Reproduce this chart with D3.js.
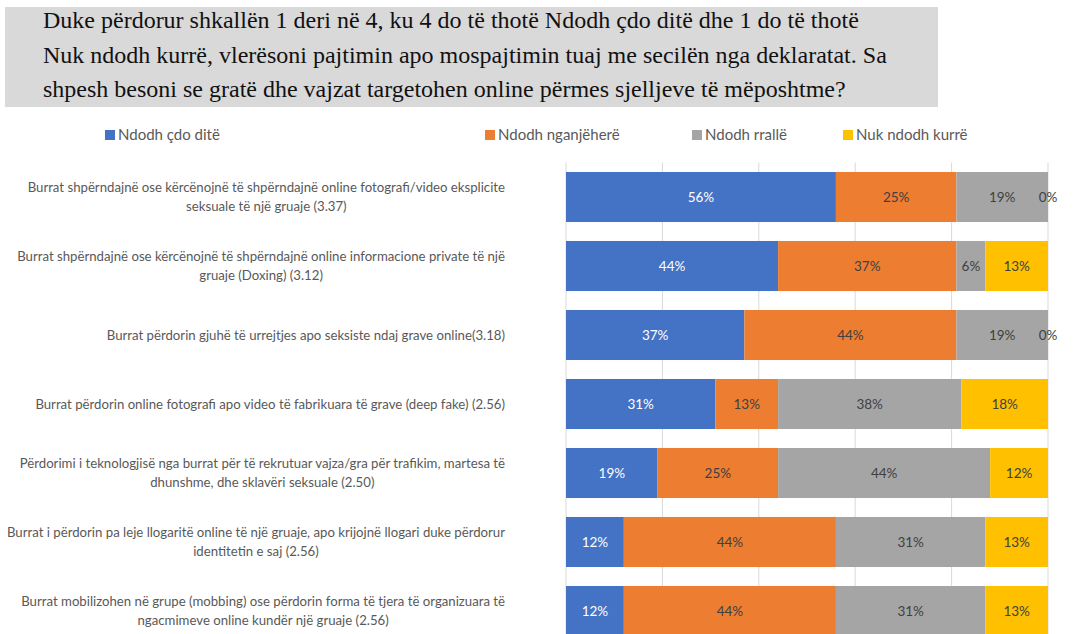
<!DOCTYPE html>
<html>
<head>
<meta charset="utf-8">
<script src="https://cdn.jsdelivr.net/npm/d3@7"></script>
<style>
  body { margin: 0; background: #fff; }
</style>
</head>
<body>
<div id="chart"></div>
<script>
// title + data
const titleLines = [
  "Duke përdorur shkallën 1 deri në 4, ku 4 do të thotë Ndodh çdo ditë dhe 1 do të thotë",
  "Nuk ndodh kurrë, vlerësoni pajtimin apo mospajtimin tuaj me secilën nga deklaratat. Sa",
  "shpesh besoni se gratë dhe vajzat targetohen online përmes sjelljeve të mëposhtme?"
];
const categories = [
  "Burrat shpërndajnë ose kërcënojnë të shpërndajnë online fotografi/video eksplicite\nseksuale të një gruaje (3.37)",
  "Burrat shpërndajnë ose kërcënojnë të shpërndajnë online informacione private të një\ngruaje (Doxing) (3.12)",
  "Burrat përdorin gjuhë të urrejtjes apo seksiste ndaj grave online(3.18)",
  "Burrat përdorin online fotografi apo video të fabrikuara të grave (deep fake) (2.56)",
  "Përdorimi i teknologjisë nga burrat për të rekrutuar vajza/gra për trafikim, martesa të\ndhunshme, dhe sklavëri seksuale (2.50)",
  "Burrat i përdorin pa leje llogaritë online të një gruaje, apo krijojnë llogari duke përdorur\nidentitetin e saj (2.56)",
  "Burrat mobilizohen në grupe (mobbing) ose përdorin forma të tjera të organizuara të\nngacmimeve online kundër një gruaje (2.56)"
];
const seriesNames = ["Ndodh çdo ditë", "Ndodh nganjëherë", "Ndodh rrallë", "Nuk ndodh kurrë"];
const everyDay  = [56, 44, 37, 31, 19, 12, 12];
const sometimes = [25, 37, 44, 13, 25, 44, 44];
const rarely    = [19, 6, 19, 38, 44, 31, 31];
const never     = [0, 13, 0, 18, 12, 13, 13];
const gridTicks = [0, 20, 40, 60, 80, 100];

const colors = ["#4472C4", "#ED7D31", "#A5A5A5", "#FFC000"];
const labelColors = ["#ffffff", "#404040", "#404040", "#404040"];

const width = 1083, height = 634;
const plot = { left: 566, right: 1048, top: 162.5, bottom: 645.5 };

const svg = d3.select("#chart").append("svg")
  .attr("width", width)
  .attr("height", height);

// title box
svg.append("rect")
  .attr("x", 5).attr("y", 7)
  .attr("width", 933).attr("height", 100)
  .attr("fill", "#d9d9d9");

svg.append("g").selectAll("text")
  .data(titleLines)
  .join("text")
    .attr("x", 43)
    .attr("y", (d, i) => 28 + i * 34.5)
    .attr("font-family", "Liberation Serif, serif")
    .attr("font-size", 24)
    .attr("fill", "#111")
    .text(d => d);

// stacked rows
const rows = categories.map((c, i) => ({
  cat: i,
  [seriesNames[0]]: everyDay[i],
  [seriesNames[1]]: sometimes[i],
  [seriesNames[2]]: rarely[i],
  [seriesNames[3]]: never[i]
}));
const stacked = d3.stack().keys(seriesNames)(rows);

const x = d3.scaleLinear().domain([0, 100]).range([plot.left, plot.right]);
const y = d3.scaleBand()
  .domain(d3.range(categories.length))
  .range([plot.top, plot.bottom])
  .paddingInner(0.275)
  .paddingOuter(0.1375);

// gridlines
svg.append("g").selectAll("line")
  .data(gridTicks)
  .join("line")
    .attr("x1", d => x(d)).attr("x2", d => x(d))
    .attr("y1", plot.top).attr("y2", plot.bottom)
    .attr("stroke", "#d9d9d9")
    .attr("stroke-width", 1);

// bars
const layer = svg.append("g").selectAll("g")
  .data(stacked)
  .join("g")
    .attr("fill", (d, i) => colors[i]);

layer.selectAll("rect")
  .data(d => d)
  .join("rect")
    .attr("x", d => x(d[0]))
    .attr("y", d => y(d.data.cat))
    .attr("width", d => x(d[1]) - x(d[0]))
    .attr("height", y.bandwidth());

// value labels
svg.append("g").selectAll("g")
  .data(stacked)
  .join("g")
    .attr("fill", (d, i) => labelColors[i])
  .selectAll("text")
  .data(d => d)
  .join("text")
    .attr("x", d => (x(d[0]) + x(d[1])) / 2)
    .attr("y", d => y(d.data.cat) + y.bandwidth() / 2)
    .attr("dy", "0.35em")
    .attr("text-anchor", "middle")
    .attr("font-family", "Lato, sans-serif")
    .attr("font-size", 13.5)
    .text(d => (d[1] - d[0]) + "%");

// category labels, each line centred, block right aligned
const labelRight = 505;
const catG = svg.append("g")
  .attr("font-family", "Lato, sans-serif")
  .attr("font-size", 13.2)
  .attr("fill", "#595959");

categories.forEach((c, i) => {
  const lines = c.split("\n");
  const cy = y(i) + y.bandwidth() / 2;
  const g = catG.append("g");
  const texts = g.selectAll("text")
    .data(lines)
    .join("text")
      .attr("y", (d, j) => cy + (j - (lines.length - 1) / 2) * 19)
      .attr("dy", "0.35em")
      .attr("text-anchor", "middle")
      .text(d => d);
  const maxW = d3.max(texts.nodes(), n => n.getComputedTextLength());
  texts.attr("x", labelRight - maxW / 2);
});

// legend
const legendX = [105, 485, 692, 843];
const legend = svg.append("g").selectAll("g")
  .data(seriesNames)
  .join("g")
    .attr("transform", (d, i) => `translate(${legendX[i]},135)`);
legend.append("rect")
  .attr("x", 0).attr("y", -5)
  .attr("width", 10).attr("height", 10)
  .attr("fill", (d, i) => colors[i]);
legend.append("text")
  .attr("x", 13)
  .attr("dy", "0.35em")
  .attr("font-family", "Lato, sans-serif")
  .attr("font-size", 15)
  .attr("fill", "#595959")
  .text(d => d);
</script>
</body>
</html>
